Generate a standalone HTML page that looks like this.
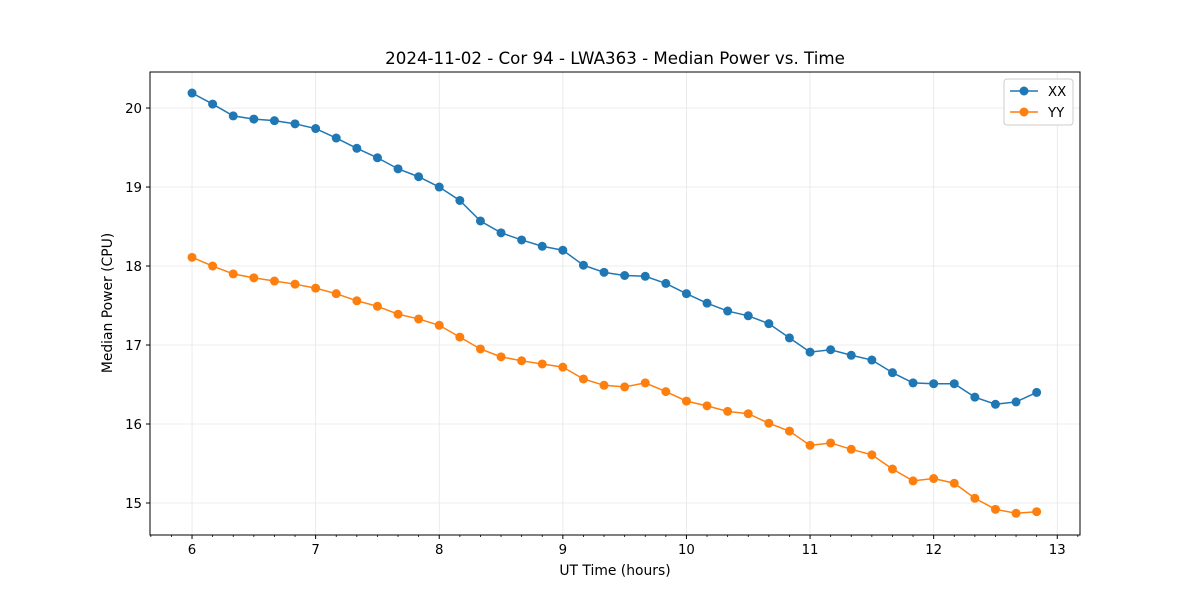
<!DOCTYPE html>
<html><head><meta charset="utf-8"><style>body{margin:0;background:#fff}svg{font-family:"DejaVu Sans","Liberation Sans",sans-serif}</style></head>
<body>
<svg id="chart" width="1200" height="600"></svg>
<script>
const times=[];for(let i=0;i<42;i++)times.push(6+i/6);
const xxValues=[20.19,20.05,19.9,19.86,19.84,19.8,19.74,19.62,19.49,19.37,19.23,19.13,19.0,18.83,18.57,18.42,18.33,18.25,18.2,18.01,17.92,17.88,17.87,17.78,17.65,17.53,17.43,17.37,17.27,17.09,16.91,16.94,16.87,16.81,16.65,16.52,16.51,16.51,16.34,16.25,16.28,16.4];
const yyValues=[18.11,18.0,17.9,17.85,17.81,17.77,17.72,17.65,17.56,17.49,17.39,17.33,17.25,17.1,16.95,16.85,16.8,16.76,16.72,16.57,16.49,16.47,16.52,16.41,16.29,16.23,16.16,16.13,16.01,15.91,15.73,15.76,15.68,15.61,15.43,15.28,15.31,15.25,15.06,14.92,14.87,14.89];
const xTicks=[6,7,8,9,10,11,12,13];
const yTicks=[15,16,17,18,19,20];
const L=150,R=1080,T=72,B=535,x0=5.66,x1=13.184,y0=14.595,y1=20.456;
const X=v=>L+(v-x0)/(x1-x0)*(R-L), Y=v=>B-(v-y0)/(y1-y0)*(B-T);
const s=document.getElementById('chart'),NS='http://www.w3.org/2000/svg';
function mk(t,a,p){const e=document.createElementNS(NS,t);for(const k in a)e.setAttribute(k,a[k]);(p||s).appendChild(e);return e;}
let e;
for(const t of xTicks){
 e=mk('line',{x1:X(t),x2:X(t),y1:T,y2:B,stroke:'#e6e6e6','stroke-width':0.8});
 
 e=mk('line',{x1:X(t),x2:X(t),y1:B,y2:B+4,stroke:'#000'});
 
 e=mk('text',{x:X(t),y:B+19,'text-anchor':'middle','font-size':13.3});e.textContent=t;
 
}
for(let m=Math.ceil(x0*6);m<=x1*6;m++){if(m%6===0)continue;
 e=mk('line',{x1:X(m/6),x2:X(m/6),y1:B,y2:B+2,stroke:'#000','stroke-width':0.8});
 }
for(const t of yTicks){
 e=mk('line',{x1:L,x2:R,y1:Y(t),y2:Y(t),stroke:'#e6e6e6','stroke-width':0.8});
 
 e=mk('line',{x1:L-4,x2:L,y1:Y(t),y2:Y(t),stroke:'#000'});
 
 e=mk('text',{x:L-8,y:Y(t)+5,'text-anchor':'end','font-size':13.3});e.textContent=t;
 
}
function series(vals,color,name){
 const g=mk('g',{});
 const pl=mk('polyline',{points:vals.map((v,i)=>X(times[i])+','+Y(v)).join(' '),fill:'none',stroke:color,'stroke-width':1.5},g);
 
 vals.forEach((v,i)=>{const c=mk('circle',{cx:X(times[i]),cy:Y(v),r:4.5,fill:color},g);
  });
}
series(xxValues,'#1f77b4','xx');
series(yyValues,'#ff7f0e','yy');
e=mk('rect',{x:L,y:T,width:R-L,height:B-T,fill:'none',stroke:'#000','stroke-width':1});

e=mk('text',{x:615,y:64,'text-anchor':'middle','font-size':16.67});e.textContent='2024-11-02 - Cor 94 - LWA363 - Median Power vs. Time';

e=mk('text',{x:615,y:575,'text-anchor':'middle','font-size':13.89});e.textContent='UT Time (hours)';

e=mk('text',{x:112,y:303,'text-anchor':'middle','font-size':13.89,transform:'rotate(-90 112 303)'});e.textContent='Median Power (CPU)';

const lg=mk('g',{});
e=mk('rect',{x:1004,y:79,width:69,height:46,rx:3,fill:'#fff',stroke:'#ccc'},lg);

[['XX','#1f77b4',91],['YY','#ff7f0e',112]].forEach(([n,c,y])=>{
 const g=mk('g',{},lg);
 mk('line',{x1:1010,x2:1038,y1:y,y2:y,stroke:c,'stroke-width':1.5},g);
 mk('circle',{cx:1024,cy:y,r:4.5,fill:c},g);
 const t=mk('text',{x:1048,y:y+5,'font-size':13.3},g);t.textContent=n;
});
</script>
</body></html>
